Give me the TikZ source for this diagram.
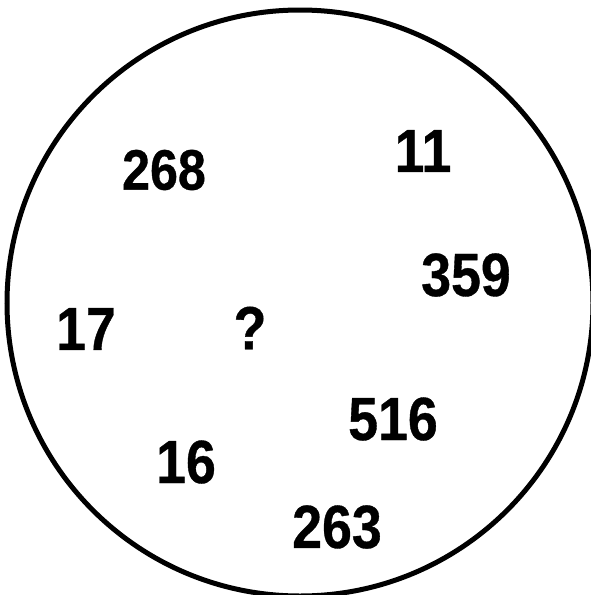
\documentclass[tikz,border=0pt]{standalone}
\usepackage{fontspec}
\setmainfont{Liberation Sans}
\newfontfamily\numfont[FakeStretch=0.88, FakeBold=0.6]{Liberation Sans}
\usetikzlibrary{positioning}
\definecolor{Ink}{HTML}{000000}

\begin{document}
\begin{tikzpicture}[x=1pt, y=-1pt,
    num/.style={Ink, inner sep=0pt, font=\numfont\bfseries\fontsize{61}{61}\selectfont},
    smallnum/.style={num, font=\numfont\bfseries\fontsize{57}{57}\selectfont}]
      \useasboundingbox (0,0) rectangle (591,595);
      \clip (0,0) rectangle (591,595);
      \draw[Ink, line width=5pt] (300,303) circle (293);
      \node[smallnum] (n268) at (164,170) {268};
      \node[num] (n11) at (423,151) {11};
      \node[num] (n359) at (466,275) {359};
      \node[num] (n17) at (86,329) {17};
      \node[num] (q) at (250,328) {?};
      \node[num] (n516) at (393,419) {516};
      \node[num] (n16) at (186,462) {16};
      \node[num] (n263) at (337,527) {263};
    \end{tikzpicture}
\end{document}
